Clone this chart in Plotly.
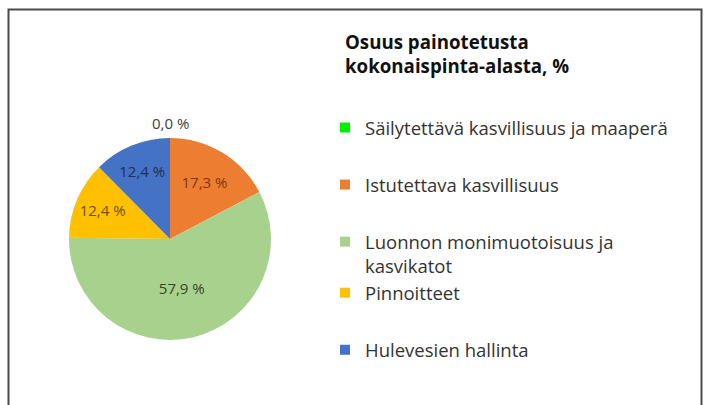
import plotly.graph_objects as go

# ---- data ----
labels = [
    "Säilytettävä kasvillisuus ja maaperä",
    "Istutettava kasvillisuus",
    "Luonnon monimuotoisuus ja<br>kasvikatot",
    "Pinnoitteet",
    "Hulevesien hallinta",
]
values = [0.0, 17.3, 57.9, 12.4, 12.4]
colors = ["#00EE00", "#ED7D31", "#A9D18E", "#FFC000", "#4472C4"]
text_colors = ["#404040", "#7A3A10", "#2E4A1E", "#6B5000", "#1F3050"]
legend_groups = ["g1", "g2", "g3", "g3", "g4"]
title_text = "<b>Osuus painotetusta<br>kokonaispinta-alasta, %</b>"

W, H = 706, 405
FONT = "Open Sans, sans-serif"

# pie geometry (pixels)
cx, cy, r = 170, 239, 101

pct_text = [f"{v:.1f} %".replace(".", ",") for v in values]

fig = go.Figure()
fig.add_trace(go.Pie(
    labels=labels,
    values=values,
    text=pct_text,
    texttemplate="%{text}",
    textposition="inside",
    insidetextorientation="horizontal",
    textfont=dict(color=text_colors, size=15, family=FONT),
    marker=dict(colors=colors, line=dict(width=0)),
    sort=False,
    direction="clockwise",
    rotation=0,
    showlegend=False,
    hoverinfo="label+percent",
    domain=dict(x=[(cx - r) / W, (cx + r) / W], y=[(H - cy - r) / H, (H - cy + r) / H]),
))

# legend entries (one per category)
for lab, col, grp in zip(labels, colors, legend_groups):
    fig.add_trace(go.Scatter(
        x=[None], y=[None], mode="markers", name=lab, legendgroup=grp,
        marker=dict(symbol="square", size=10, color=col),
        hoverinfo="skip",
    ))

# zero-value label above the pie
fig.add_annotation(
    x=cx / W, y=(H - cy + r) / H, xref="paper", yref="paper",
    text=pct_text[0], showarrow=False, xanchor="center", yanchor="bottom", yshift=3,
    font=dict(size=15, color=text_colors[0], family=FONT),
)

# chart frame
fig.add_shape(type="rect", xref="paper", yref="paper",
              x0=8.5 / W, x1=701.5 / W, y0=-0.05, y1=(H - 9.5) / H,
              line=dict(color="#4a4a4a", width=2))

fig.update_layout(
    width=W, height=H,
    margin=dict(l=0, r=0, t=0, b=0),
    paper_bgcolor="white", plot_bgcolor="white",
    xaxis=dict(visible=False), yaxis=dict(visible=False),
    title=dict(text=title_text, x=345 / W, xanchor="left", y=1 - 49 / H, yanchor="top",
               font=dict(size=18.7, color="#111111", family="Open Sans, sans-serif")),
    legend=dict(
        x=325 / W, xanchor="left", y=1 - 109 / H, yanchor="top",
        font=dict(size=18.5, color="#333333", family=FONT),
        tracegroupgap=30, valign="top", bgcolor="rgba(0,0,0,0)",
        traceorder="grouped",
    ),
)

fig.write_html("out.html", config={"displayModeBar": False},
               post_script="document.body.style.margin='0';")
